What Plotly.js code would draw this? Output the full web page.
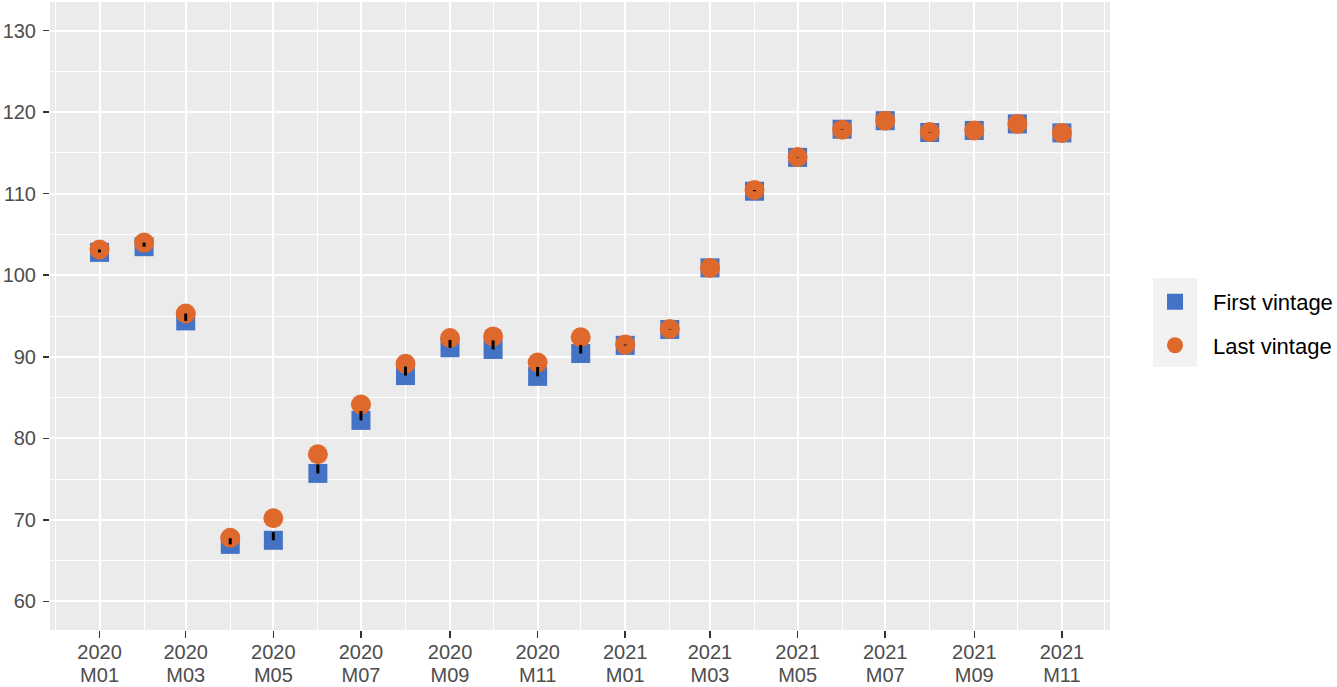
<!DOCTYPE html>
<html>
<head>
<meta charset="utf-8">
<script src="https://cdn.plot.ly/plotly-3.0.1.min.js"></script>
<style>html,body{margin:0;padding:0;background:#fff;}#chart{width:1337px;height:687px;}</style>
</head>
<body>
<div id="chart"></div>
<script>
// ---- data ----
const months = ['2020-01-01','2020-02-01','2020-03-01','2020-04-01','2020-05-01','2020-06-01',
  '2020-07-01','2020-08-01','2020-09-01','2020-10-01','2020-11-01','2020-12-01',
  '2021-01-01','2021-02-01','2021-03-01','2021-04-01','2021-05-01','2021-06-01',
  '2021-07-01','2021-08-01','2021-09-01','2021-10-01','2021-11-01'];
const firstVintage = [102.8, 103.5, 94.4, 67.0, 67.5, 75.7, 82.2, 87.7, 91.1, 90.9, 87.6, 90.4,
  91.4, 93.35, 100.9, 110.3, 114.45, 117.9, 118.95, 117.5, 117.75, 118.55, 117.45];
const lastVintage = [103.15, 104.0, 95.3, 67.8, 70.2, 78.05, 84.15, 89.15, 92.3, 92.5, 89.3, 92.4,
  91.5, 93.4, 100.9, 110.45, 114.5, 117.85, 118.95, 117.55, 117.75, 118.55, 117.45];
const revisionTop = [103.15, 104.0, 95.3, 67.75, 68.5, 76.8, 83.35, 88.8, 92.05, 92.0, 88.75, 91.45,
  91.5, 93.4, 100.9, 110.45, 114.5, 117.85, 118.95, 117.55, 117.75, 118.55, 117.45];
const tickDates = ['2020-01-01','2020-03-01','2020-05-01','2020-07-01','2020-09-01','2020-11-01',
  '2021-01-01','2021-03-01','2021-05-01','2021-07-01','2021-09-01','2021-11-01'];
const tickYears = ['2020','2020','2020','2020','2020','2020','2021','2021','2021','2021','2021','2021'];
const tickMonths = ['M01','M03','M05','M07','M09','M11','M01','M03','M05','M07','M09','M11'];
const seriesNames = ['First vintage', 'Last vintage'];

// ---- segments (first -> revision top) ----
const segX = [], segY = [];
months.forEach((m, i) => {
  segX.push(m, m, null);
  segY.push(firstVintage[i], revisionTop[i], null);
});

const xRange = ['2019-11-27 12:00', '2021-12-04 12:00'];
const FS = 22;
const XFS = 20;

const traces = [
  {x: months, y: firstVintage, name: seriesNames[0], type: 'scatter', mode: 'markers',
   legendgroup: 'a',
   marker: {symbol: 'square', size: 19, color: '#4472C4'}, hoverinfo: 'x+y'},
  {x: months, y: lastVintage, name: seriesNames[1], type: 'scatter', mode: 'markers',
   legendgroup: 'b',
   marker: {symbol: 'circle', size: 20, color: '#DF692D'}, hoverinfo: 'x+y'},
  {x: segX, y: segY, xaxis: 'x2', type: 'scatter', mode: 'lines', showlegend: false,
   line: {color: '#000000', width: 3}, hoverinfo: 'skip'}
];

const layout = {
  width: 1337, height: 687,
  margin: {l: 50, r: 227, t: 2, b: 57, autoexpand: false},
  paper_bgcolor: '#ffffff',
  plot_bgcolor: '#EBEBEB',
  font: {family: 'Liberation Sans, Arial, sans-serif', size: FS, color: '#4D4D4D'},
  xaxis: {
    type: 'date', range: xRange,
    tickmode: 'array', tickvals: tickDates, ticktext: tickYears,
    showgrid: true, gridcolor: '#FFFFFF', gridwidth: 2,
    ticks: 'outside', ticklen: 7, tickwidth: 1.5, tickcolor: '#333333',
    ticklabelstandoff: -3,
    tickfont: {size: XFS, color: '#4D4D4D'},
    minor: {tickmode: 'linear', tick0: '2019-12-01', dtick: 'M2', showgrid: true,
            gridcolor: '#FFFFFF', gridwidth: 1, ticks: ''},
    zeroline: false, showline: false, fixedrange: true
  },
  xaxis2: {
    type: 'date', range: xRange, overlaying: 'x', anchor: 'y', side: 'bottom',
    tickmode: 'array', tickvals: tickDates, ticktext: tickMonths,
    showgrid: false, ticks: '', ticklabelstandoff: 31,
    tickfont: {size: XFS, color: '#4D4D4D'},
    zeroline: false, showline: false, fixedrange: true
  },
  yaxis: {
    range: [56.5, 133.5],
    tickmode: 'linear', tick0: 0, dtick: 10,
    showgrid: true, gridcolor: '#FFFFFF', gridwidth: 2,
    ticks: 'outside', ticklen: 6, tickwidth: 1.5, tickcolor: '#333333',
    ticklabelstandoff: 3,
    tickfont: {size: 20, color: '#4D4D4D'},
    minor: {tickmode: 'linear', tick0: 5, dtick: 10, showgrid: true,
            gridcolor: '#FFFFFF', gridwidth: 1, ticks: ''},
    zeroline: false, showline: false, fixedrange: true
  },
  legend: {
    x: 1.0255, xanchor: 'left', y: 0.556, yanchor: 'top',
    bgcolor: 'rgba(0,0,0,0)', borderwidth: 0,
    font: {size: FS, color: '#000000'},
    traceorder: 'grouped', tracegroupgap: 12,
    itemwidth: 66
  },
  shapes: [
    {type: 'rect', xref: 'paper', yref: 'paper', layer: 'below',
     x0: 1.0406, x1: 1.0821, y0: 0.4188, y1: 0.5605,
     fillcolor: '#F2F2F2', line: {width: 0}}
  ],
  showlegend: true
};

Plotly.newPlot('chart', traces, layout, {displayModeBar: false, staticPlot: true});
</script>
</body>
</html>
